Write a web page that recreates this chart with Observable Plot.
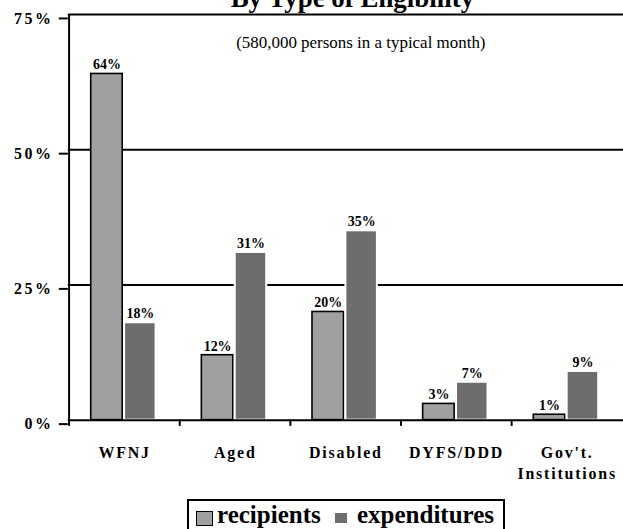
<!DOCTYPE html>
<html>
<head>
<meta charset="utf-8">
<script src="https://cdn.jsdelivr.net/npm/d3@7"></script>
<script src="https://cdn.jsdelivr.net/npm/@observablehq/plot@0.6"></script>
<style>
  html, body { margin: 0; padding: 0; background: #fff; overflow: hidden; }
  #wrap { position: relative; width: 623px; height: 529px; overflow: hidden; font-family: "Liberation Serif", "Times New Roman", serif; }
  #wrap svg { position: absolute; left: 0; top: 0; }
  g[aria-label="y-axis tick label"] { letter-spacing: 2.5px; }
  g[aria-label="x-axis tick label"] { letter-spacing: 1.8px; }
  .leg { position: absolute; }
  .legbox { position: absolute; left: 187px; top: 499px; width: 318px; height: 45px; border: 2px solid #000; box-sizing: border-box; }
  .legtxt { position: absolute; font-family: "Liberation Serif", "Times New Roman", serif; font-size: 25px; font-weight: bold; line-height: 1; white-space: nowrap; color: #000; }
</style>
</head>
<body>
<div id="wrap"></div>
<script>
// ---- data ----
const title = "By Type of Eligibility";
const subtitle = "(580,000 persons in a typical month)";
const categories = ["WFNJ", "Aged", "Disabled", "DYFS/DDD", "Gov't.\nInstitutions"];
const seriesNames = ["recipients", "expenditures"];
const recipients = [64, 12, 20, 3, 1];
const expenditures = [18, 31, 35, 7, 9];
const yTicks = [0, 25, 50, 75];
const colors = ["#a0a0a0", "#6d6d6d"];

const rows = categories.map((c, i) => ({category: c, recipients: recipients[i], expenditures: expenditures[i]}));

const W = 625, H = 529, mL = 68, mR = 0, mT = 14, mB = 108;
const bw = (W - mL - mR) / categories.length;

const chart = Plot.plot({
  width: W,
  height: H,
  marginLeft: mL,
  marginRight: mR,
  marginTop: mT,
  marginBottom: mB,
  style: {fontFamily: "'Liberation Serif', 'Times New Roman', serif", fontSize: "14px", background: "transparent", color: "#000", overflow: "visible"},
  x: {type: "band", domain: categories, paddingInner: 0, paddingOuter: 0},
  y: {domain: [0, 75]},
  marks: [
    // gridlines
    Plot.ruleY(yTicks.filter(d => d > 0), {stroke: "#000", strokeWidth: 2}),
    // bars
    Plot.barY(rows, {x: "category", y: "recipients", fill: colors[0], stroke: "#000", strokeWidth: 1.6, insetLeft: 22, insetRight: bw - 54}),
    Plot.barY(rows, {x: "category", y: "expenditures", fill: colors[1], stroke: "#fff", strokeWidth: 2, insetLeft: 55.5, insetRight: bw - 87.5}),
    // axes lines
    Plot.ruleY([0], {stroke: "#000", strokeWidth: 2}),
    Plot.ruleX([categories[0]], {x: d => d, dx: -bw / 2, y1: 0, y2: 75, stroke: "#000", strokeWidth: 2}),
    Plot.ruleX(categories, {x: d => d, dx: -bw / 2, y1: 0, y2: -1.15, stroke: "#000", strokeWidth: 2}),
    Plot.axisY({ticks: yTicks, tickSize: 9, tickPadding: 6, tickFormat: d => d + "%", fontSize: 16, fontWeight: "bold", dy: 4, strokeWidth: 2, label: null}),
    Plot.axisX({tickSize: 0, tickPadding: 22, fontSize: 16, fontWeight: "bold", lineHeight: 1.37, label: null}),
    // value labels
    Plot.text(rows, {x: "category", y: "recipients", text: d => d.recipients + "%", dx: 38 - bw / 2, dy: -9, fontSize: 14, fontWeight: "bold"}),
    Plot.text(rows, {x: "category", y: "expenditures", text: d => d.expenditures + "%", dx: 71.5 - bw / 2, dy: -9, fontSize: 14, fontWeight: "bold"}),
    // title & subtitle
    Plot.text([title], {text: d => d, frameAnchor: "top", lineAnchor: "top", dx: 6.5, dy: -27, fontSize: 27, fontWeight: "bold"}),
    Plot.text([subtitle], {text: d => d, frameAnchor: "top", lineAnchor: "top", dx: 15, dy: 21.5, fontSize: 17, fontWeight: "normal"})
  ]
});

const wrap = document.getElementById("wrap");
wrap.appendChild(chart);

// legend
const box = document.createElement("div");
box.className = "legbox";
wrap.appendChild(box);
const legItems = [
  {x: 196, y: 511, w: 17, h: 15, border: "1.5px solid #000", tx: 217},
  {x: 335, y: 513, w: 12, h: 10, border: "none", tx: 357}
];
seriesNames.forEach((name, i) => {
  const it = legItems[i];
  const sw = document.createElement("div");
  sw.className = "leg";
  Object.assign(sw.style, {left: it.x + "px", top: it.y + "px", width: it.w + "px", height: it.h + "px", background: colors[i], border: it.border, boxSizing: "border-box"});
  wrap.appendChild(sw);
  const t = document.createElement("div");
  t.className = "legtxt";
  t.textContent = name;
  Object.assign(t.style, {left: it.tx + "px", top: "502px"});
  wrap.appendChild(t);
});
</script>
</body>
</html>
